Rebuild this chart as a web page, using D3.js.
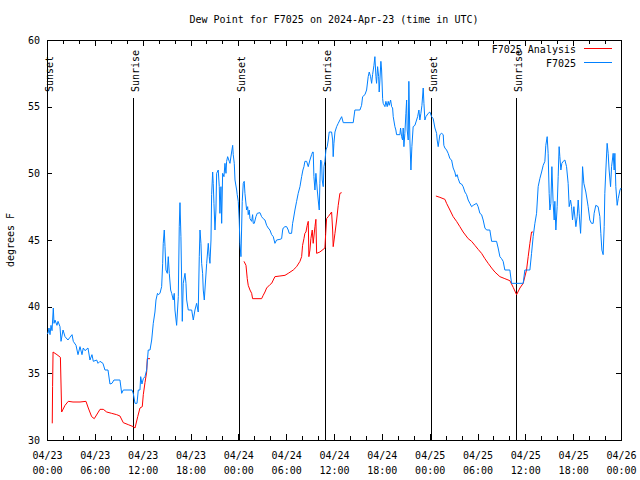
<!DOCTYPE html>
<html>
<head>
<meta charset="utf-8">
<script src="https://cdn.jsdelivr.net/npm/d3@7"></script>
<style>
  html, body { margin: 0; padding: 0; background: #fff; }
  svg { display: block; }
  text { font-family: "DejaVu Sans Mono", "Liberation Mono", monospace; font-size: 10px; fill: #000; }
</style>
</head>
<body>
<svg id="chart" width="640" height="480"></svg>
<script>
// ---------------- DATA ----------------
const titleText = "Dew Point for F7025 on 2024-Apr-23 (time in UTC)";
const yLabelText = "degrees F";
const startTime = "2024-04-23T00:00:00Z";
const endTime = "2024-04-26T00:00:00Z";
const yTicks = [30, 35, 40, 45, 50, 55, 60];

// events (hours after start)
const eventHours = [0.05, 10.82, 24.08, 34.9, 48.2, 58.85];
const eventLabels = ["Sunset", "Sunrise", "Sunset", "Sunrise", "Sunset", "Sunrise"];

// series names
const seriesNames = ["F7025 Analysis", "F7025"];

// F7025 observations (hours after start, deg F)
const obsHours = [0.00,0.13,0.25,0.38,0.50,0.63,0.79,0.88,1.00,1.25,1.38,1.63,1.76,2.01,2.26,2.63,2.88,3.14,3.30,3.64,3.89,4.14,4.39,4.55,4.77,5.14,5.39,5.64,5.81,6.23,6.40,6.65,7.02,7.27,7.65,7.90,8.15,8.40,9.15,9.37,9.57,10.66,10.82,11.04,11.29,11.45,11.66,11.75,11.91,12.08,12.29,12.50,12.70,12.92,13.13,13.33,13.54,13.67,13.86,13.96,14.17,14.38,14.51,14.58,14.71,14.80,14.92,15.09,15.21,15.34,15.51,15.64,15.84,15.96,16.05,16.26,16.47,16.59,16.68,16.80,16.97,17.09,17.31,17.43,17.52,17.72,18.15,18.35,18.56,18.77,18.97,19.10,19.19,19.31,19.40,19.52,19.60,19.73,19.81,20.03,20.23,20.35,20.44,20.57,20.65,20.78,20.85,20.94,21.07,21.19,21.28,21.48,21.61,21.69,21.82,21.91,22.03,22.20,22.32,22.45,22.53,22.66,22.86,22.95,23.16,23.29,23.36,23.49,23.58,23.79,23.86,23.99,24.11,24.20,24.33,24.49,24.62,24.74,24.83,25.04,25.17,25.24,25.37,25.46,25.67,25.79,25.87,26.00,26.21,26.37,26.71,26.92,27.12,27.34,27.55,27.75,27.96,28.18,28.38,28.59,28.80,29.22,29.43,29.56,29.63,29.85,30.06,30.26,30.38,30.68,30.81,30.89,31.10,31.31,31.51,31.73,31.94,32.10,32.23,32.35,32.57,32.77,32.98,33.19,33.32,33.39,33.48,33.61,33.73,33.90,34.02,34.15,34.23,34.32,34.45,34.52,34.65,34.74,34.86,34.99,35.15,35.28,35.40,35.70,35.83,35.90,35.99,36.12,36.33,36.53,36.74,36.96,37.16,38.41,38.62,39.25,39.46,39.59,39.88,40.09,40.29,40.42,40.59,40.72,40.84,41.01,41.13,41.26,41.34,41.47,41.60,41.67,41.76,41.88,41.97,42.10,42.17,42.39,42.51,42.67,42.80,42.92,43.10,43.23,43.35,43.43,43.64,43.76,43.85,44.27,44.35,44.48,44.60,44.68,44.77,44.89,45.02,45.11,45.18,45.31,45.39,45.52,45.65,45.77,45.93,46.15,46.36,46.49,46.65,46.77,46.90,47.03,47.19,47.28,47.40,47.53,47.82,48.03,48.24,48.44,48.66,48.87,48.94,49.07,49.28,49.50,49.70,49.78,49.91,50.12,50.32,50.54,50.75,50.95,51.16,51.29,51.45,51.58,51.79,52.00,52.20,52.42,52.63,52.83,53.04,53.26,53.46,53.88,54.08,54.30,54.51,54.71,54.93,55.14,55.55,55.77,56.39,56.59,56.81,57.02,57.22,57.43,58.06,58.27,59.73,59.94,60.36,60.57,60.78,60.98,61.20,61.41,61.61,61.82,62.04,62.24,62.45,62.57,62.74,62.86,62.99,63.08,63.20,63.33,63.49,63.62,63.70,63.83,63.99,64.12,64.24,64.33,64.46,64.58,64.75,64.96,65.17,65.37,65.50,65.67,65.80,65.92,66.09,66.34,66.50,66.63,66.75,66.93,67.05,67.18,67.34,67.59,67.75,67.88,68.09,68.30,68.51,68.63,68.84,69.13,69.35,69.47,69.60,69.76,69.89,69.97,70.10,70.26,70.39,70.51,70.69,70.82,71.02,71.14,71.23,71.35,71.52,71.65,71.87,72.00];
const obsValues = [38.0,38.0,38.4,37.9,38.6,38.2,39.9,38.75,39.0,38.6,38.9,38.5,37.4,38.25,37.75,37.5,37.7,37.9,37.4,37.1,36.4,37.0,36.4,36.9,36.7,36.9,36.0,36.4,35.9,36.0,35.75,35.9,35.75,35.25,35.25,34.2,34.25,34.5,34.5,33.5,33.75,33.75,33.5,32.75,32.75,33.75,33.75,34.75,34.2,34.6,34.75,35.25,36.75,36.75,37.5,38.75,39.6,40.5,41.0,40.9,41.0,41.5,43.25,44.75,45.75,44.5,42.75,42.5,43.75,42.5,41.25,41.0,40.5,41.0,39.75,38.6,40.75,46.0,47.8,45.25,38.9,41.75,42.5,41.75,40.5,39.75,39.75,39.0,39.75,40.25,39.6,43.75,45.75,44.75,43.25,42.5,41.25,40.5,41.25,43.25,44.75,43.75,43.25,45.0,48.4,50.1,49.25,47.75,45.75,47.25,50.0,50.25,49.0,47.0,49.0,46.25,50.0,49.75,50.75,50.0,50.9,51.25,50.9,50.75,51.6,52.1,51.4,50.75,49.5,48.75,48.4,47.9,46.5,44.75,43.75,47.9,49.25,49.4,48.5,47.25,47.5,46.9,47.25,46.6,46.4,46.9,46.25,46.25,46.75,47.0,47.05,46.75,46.6,46.5,46.1,45.9,45.75,45.4,45.25,44.75,45.0,45.05,45.1,45.75,45.9,46.0,46.0,45.75,45.5,45.5,46.25,46.5,47.25,47.9,48.5,49.0,49.75,50.25,50.5,50.9,50.9,50.5,51.0,51.4,51.6,51.6,49.75,48.75,50.0,48.75,48.0,47.25,49.25,51.0,50.9,49.5,49.0,50.5,50.9,51.75,52.0,52.5,53.1,53.1,52.5,51.25,52.25,53.1,53.5,53.75,54.0,54.25,53.8,53.8,54.75,54.75,55.1,55.75,55.9,56.25,57.25,57.6,57.25,56.75,57.4,58.1,58.75,57.25,56.75,58.0,57.25,56.1,57.0,58.4,57.75,55.6,55.25,55.0,55.4,55.0,55.4,55.1,55.5,55.0,54.9,54.25,53.5,53.25,52.9,52.9,53.4,52.75,52.5,53.4,52.0,53.0,54.5,55.5,53.25,52.5,56.9,52.5,50.25,52.0,53.5,53.6,54.0,54.25,54.75,54.0,54.5,55.1,56.4,55.25,54.0,54.25,54.5,54.6,54.25,54.1,53.4,53.0,52.5,52.0,52.9,53.0,52.9,52.1,51.9,51.75,51.5,51.1,51.0,50.4,50.1,49.75,49.9,49.6,49.25,49.2,49.0,48.6,48.4,48.0,47.75,47.5,47.6,47.75,47.5,47.0,46.9,46.5,45.9,45.75,45.75,44.9,44.9,44.4,43.75,43.6,43.4,42.75,42.75,41.75,41.75,42.75,42.75,42.75,44.0,45.25,46.25,47.0,49.0,49.6,50.1,50.6,50.9,52.1,52.75,51.5,48.5,47.25,47.75,50.5,47.75,46.5,47.9,45.75,47.5,49.75,52.0,51.25,50.25,50.75,50.9,51.0,50.5,49.25,47.5,48.0,47.5,46.5,47.5,46.0,46.75,48.0,47.0,45.5,47.25,50.5,49.25,48.6,48.0,47.5,46.5,46.25,46.25,47.0,47.6,47.5,46.75,45.5,44.25,43.9,46.0,48.5,50.25,52.25,51.5,50.25,49.0,50.5,51.5,50.25,51.5,49.0,47.6,48.1,48.75,48.9];

// F7025 Analysis (hours after start, deg F); null marks a gap
const anaHours = [0.66,0.70,0.76,1.00,1.25,1.68,1.76,1.84,2.26,2.67,3.26,4.14,4.89,5.18,5.60,5.93,6.65,7.06,7.49,8.11,8.74,9.15,9.57,10.20,10.82,11.04,11.38,11.66,11.95,12.08,12.29,12.50,12.58,12.92,
  18.0,
  24.71,24.96,25.12,25.24,25.46,25.67,25.79,26.92,27.12,27.34,27.55,27.96,28.18,28.38,28.59,29.22,29.85,30.26,30.89,31.31,31.73,31.94,32.06,32.23,32.35,32.48,32.64,32.77,32.85,32.98,33.10,33.27,33.39,33.61,33.73,33.82,34.23,34.86,34.95,35.07,35.28,35.70,35.83,35.90,36.12,36.33,36.53,36.74,36.96,
  42.0,
  48.78,49.28,49.91,50.12,50.54,50.95,51.37,51.79,52.20,52.83,53.26,53.67,54.08,54.51,54.93,55.34,55.77,56.18,56.81,57.43,58.06,58.48,58.90,59.32,59.73,60.15,60.36,60.57,60.78,60.95];
const anaValues = [31.25,34.0,36.6,36.5,36.4,36.2,34.2,32.1,32.6,32.9,32.85,32.85,32.9,32.4,31.75,31.6,32.3,32.3,32.1,32.0,31.9,31.8,31.3,31.15,31.0,30.9,31.75,32.4,32.5,33.4,34.3,35.1,36.1,36.1,
  null,
  43.4,43.1,42.1,41.6,41.25,41.0,40.6,40.6,40.85,41.1,41.4,41.65,41.75,42.0,42.25,42.3,42.35,42.5,42.75,43.0,43.4,43.75,44.6,45.1,45.5,45.6,46.1,46.4,43.75,44.25,45.1,45.75,44.75,46.0,46.55,44.0,44.1,44.4,45.4,46.6,46.75,47.1,45.75,44.5,45.5,46.5,47.6,48.5,48.55,
  null,
  48.3,48.2,48.05,47.75,47.25,46.75,46.4,46.0,45.6,45.1,44.9,44.6,44.3,44.0,43.6,43.25,42.9,42.6,42.25,42.1,41.95,41.45,40.9,41.4,41.75,42.75,43.75,44.75,45.6,45.6];

// ---------------- CHART ----------------
const W = 640, H = 480;
const m = { left: 47, right: 19, top: 40, bottom: 40 };
const pw = W - m.left - m.right, ph = H - m.top - m.bottom;
const colors = { analysis: "#ff0000", obs: "#0080ff" };

const t0 = new Date(startTime), t1 = new Date(endTime);
const hourToDate = h => new Date(t0.getTime() + h * 3600e3);

const x = d3.scaleUtc().domain([t0, t1]).range([m.left, m.left + pw]);
const y = d3.scaleLinear().domain([30, 60]).range([m.top + ph, m.top]);

const svg = d3.select("#chart");

// title
svg.append("text").attr("x", m.left + pw / 2).attr("y", 23)
  .attr("text-anchor", "middle").text(titleText);

// y label
svg.append("text").attr("transform", `translate(14,${m.top + ph / 2}) rotate(-90)`)
  .attr("text-anchor", "middle").text(yLabelText);

// axes (ticks inward)
const fmtDate = d3.utcFormat("%m/%d"), fmtTime = d3.utcFormat("%H:%M");
const minor = d3.utcHour.every(2), major = d3.utcHour.every(6);

function styleAxis(g) {
  g.select(".domain").remove();
  g.selectAll("line").attr("stroke", "#000").attr("shape-rendering", "crispEdges");
}

svg.append("g").attr("transform", `translate(0,${m.top + ph})`)
  .call(d3.axisBottom(x).ticks(minor).tickSize(-4).tickFormat(""))
  .call(styleAxis);
svg.append("g").attr("transform", `translate(0,${m.top})`)
  .call(d3.axisTop(x).ticks(minor).tickSize(-4).tickFormat(""))
  .call(styleAxis);
const xb = svg.append("g").attr("transform", `translate(0,${m.top + ph})`)
  .call(d3.axisBottom(x).ticks(major).tickSize(-6).tickFormat(""))
  .call(styleAxis);
xb.selectAll(".tick").each(function (d) {
  const t = d3.select(this).append("text").attr("text-anchor", "middle").attr("fill", "#000");
  t.append("tspan").attr("x", 0).attr("y", 19).text(fmtDate(d));
  t.append("tspan").attr("x", 0).attr("y", 34).text(fmtTime(d));
});
svg.append("g").attr("transform", `translate(0,${m.top})`)
  .call(d3.axisTop(x).ticks(major).tickSize(-6).tickFormat(""))
  .call(styleAxis);

const yl = svg.append("g").attr("transform", `translate(${m.left},0)`)
  .call(d3.axisLeft(y).tickValues(yTicks).tickSize(-5).tickPadding(7).tickFormat(d3.format("d")))
  .call(styleAxis);
yl.selectAll("text").attr("fill", "#000").style("font-family", null).style("font-size", null);
svg.append("g").attr("transform", `translate(${m.left + pw},0)`)
  .call(d3.axisRight(y).tickValues(yTicks).tickSize(-5).tickFormat(""))
  .call(styleAxis);

// frame
svg.append("rect").attr("x", m.left + 0.5).attr("y", m.top + 0.5)
  .attr("width", pw).attr("height", ph)
  .attr("fill", "none").attr("stroke", "#000").attr("shape-rendering", "crispEdges");

// event lines
const ev = svg.append("g");
eventHours.forEach((h, i) => {
  const ex = Math.round(x(hourToDate(h))) + 0.5;
  ev.append("line").attr("x1", ex).attr("x2", ex).attr("y1", 98).attr("y2", m.top + ph)
    .attr("stroke", "#000").attr("shape-rendering", "crispEdges");
  ev.append("text").attr("transform", `translate(${ex + 5.5},92) rotate(-90)`)
    .attr("text-anchor", "start").text(eventLabels[i]);
});

// series
const obs = obsHours.map((h, i) => ({ t: hourToDate(h), v: obsValues[i] }));
const ana = anaHours.map((h, i) => ({ t: hourToDate(h), v: anaValues[i] }));
const line = d3.line().defined(d => d.v != null).x(d => x(d.t)).y(d => y(d.v));

svg.append("path").datum(ana).attr("d", line)
  .attr("fill", "none").attr("stroke", colors.analysis).attr("stroke-width", 1);
svg.append("path").datum(obs).attr("d", line)
  .attr("fill", "none").attr("stroke", colors.obs).attr("stroke-width", 1);

// legend
const lg = svg.append("g");
[[seriesNames[0], colors.analysis, 49], [seriesNames[1], colors.obs, 63]].forEach(([name, c, cy]) => {
  lg.append("text").attr("x", 576).attr("y", cy + 3.6).attr("text-anchor", "end").text(name);
  lg.append("line").attr("x1", 584).attr("x2", 612).attr("y1", cy - 0.5).attr("y2", cy - 0.5)
    .attr("stroke", c).attr("shape-rendering", "crispEdges");
});
</script>
</body>
</html>
